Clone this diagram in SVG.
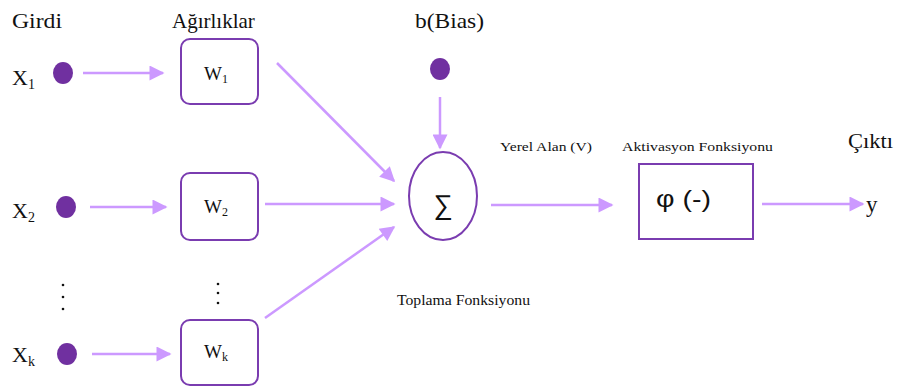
<svg xmlns="http://www.w3.org/2000/svg" width="899" height="388" viewBox="0 0 899 388">
<style>
.t{font-family:"Liberation Serif","Times New Roman",serif;fill:#111}
.s{font-family:"Liberation Sans","Open Sans",sans-serif;fill:#111}
.dot{fill:#7030a0}
.box{fill:#fff;stroke:#7a3cb0;stroke-width:2}
.c{stroke:#cc99ff;stroke-width:2.5;fill:none;marker-end:url(#ah)}
</style>
<defs>
<marker id="ah" viewBox="0 0 10 10" refX="9" refY="5" markerUnits="userSpaceOnUse" markerWidth="17" markerHeight="15" orient="auto">
<path d="M0,0 L10,5 L0,10 Z" fill="#cc99ff"/>
</marker>
</defs>
<text class="t" x="12" y="28" font-size="21" textLength="50" lengthAdjust="spacingAndGlyphs">Girdi</text>
<text class="t" x="172" y="28" font-size="21">Ağırlıklar</text>
<text class="t" x="415" y="28" font-size="21" textLength="69" lengthAdjust="spacingAndGlyphs">b(Bias)</text>
<g id="x1"><text class="t" x="12" y="85" font-size="22">X<tspan font-size="14" dy="4">1</tspan></text><ellipse class="dot" cx="63" cy="73" rx="10" ry="11"/></g>
<g id="x2"><text class="t" x="12" y="218" font-size="22">X<tspan font-size="14" dy="4">2</tspan></text><ellipse class="dot" cx="66" cy="207" rx="10" ry="11"/></g>
<g id="xk"><text class="t" x="12" y="362" font-size="22">X<tspan font-size="14" dy="4">k</tspan></text><ellipse class="dot" cx="67" cy="354" rx="10" ry="11"/></g>
<g id="dots1"><circle cx="63" cy="285" r="1.3" fill="#111"/><circle cx="63" cy="297" r="1.3" fill="#111"/><circle cx="63" cy="309" r="1.3" fill="#111"/></g>
<g id="dots2"><circle cx="218" cy="284" r="1.3" fill="#111"/><circle cx="218" cy="293" r="1.3" fill="#111"/><circle cx="218" cy="303" r="1.3" fill="#111"/></g>
<g id="w1"><rect class="box" x="181" y="39" width="77" height="65" rx="9"/><text class="t" x="204" y="80" font-size="19">W<tspan font-size="12" dy="3">1</tspan></text></g>
<g id="w2"><rect class="box" x="181" y="173" width="77" height="67" rx="9"/><text class="t" x="204" y="213" font-size="19">W<tspan font-size="12" dy="3">2</tspan></text></g>
<g id="wk"><rect class="box" x="181" y="320" width="77" height="65" rx="9"/><text class="t" x="204" y="358" font-size="19">W<tspan font-size="12" dy="3">k</tspan></text></g>
<g id="bias"><ellipse class="dot" cx="440" cy="69" rx="10" ry="11"/></g>
<g id="sum"><ellipse class="box" cx="443" cy="196" rx="34" ry="44"/><text class="s" x="443" y="214" font-size="27" text-anchor="middle">∑</text></g>
<g id="act"><rect class="box" x="639" y="164" width="114" height="75"/><text class="s" x="656" y="207" font-size="24" textLength="55" lengthAdjust="spacingAndGlyphs">φ (-)</text></g>
<g id="out"><text class="t" x="866" y="212" font-size="23">y</text></g>
<text class="t" x="848" y="148" font-size="20" textLength="45" lengthAdjust="spacingAndGlyphs">Çıktı</text>
<text class="t" x="500" y="151" font-size="13" textLength="92" lengthAdjust="spacingAndGlyphs">Yerel Alan (V)</text>
<text class="t" x="622" y="151" font-size="13" textLength="151" lengthAdjust="spacingAndGlyphs">Aktivasyon Fonksiyonu</text>
<text class="t" x="397" y="305" font-size="14" textLength="133" lengthAdjust="spacingAndGlyphs">Toplama Fonksiyonu</text>
<g id="connectors">
<line class="c" x1="83" y1="73" x2="163" y2="73"/>
<line class="c" x1="90" y1="207" x2="166" y2="207"/>
<line class="c" x1="92" y1="354" x2="170" y2="354"/>
<line class="c" x1="277" y1="63" x2="394" y2="181"/>
<line class="c" x1="265" y1="204" x2="394" y2="204"/>
<line class="c" x1="265" y1="318" x2="394" y2="227"/>
<line class="c" x1="440" y1="97" x2="440" y2="148"/>
<line class="c" x1="491" y1="205" x2="612" y2="205"/>
<line class="c" x1="762" y1="204" x2="863" y2="204"/>
</g>
</svg>
